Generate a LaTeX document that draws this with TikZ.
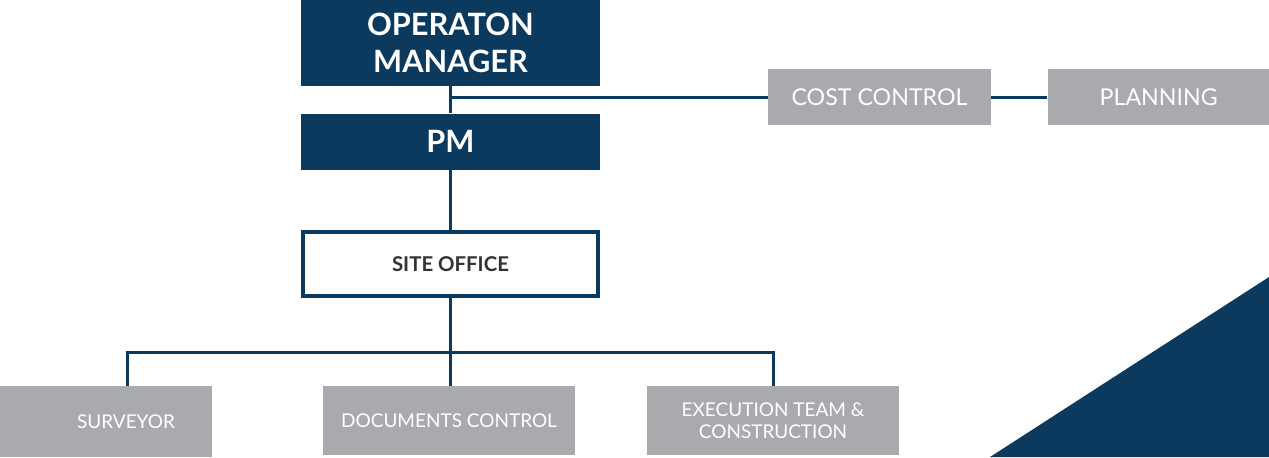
\documentclass[tikz,border=0pt]{standalone}
\usepackage{fontspec}
\setmainfont{Lato}
\usetikzlibrary{positioning}
\definecolor{navy}{HTML}{0C3A5E}
\definecolor{boxgray}{HTML}{A8AAAD}
\tikzstyle{head} = [rectangle, minimum width=5.98cm, text centered, align=center, fill=navy, text=white, font=\bfseries\fontsize{17.5}{21}\selectfont, inner sep=0pt]
\tikzstyle{office} = [rectangle, minimum width=5.9cm, minimum height=1.28cm, text centered, draw=navy, line width=0.08cm, fill=white, text=black!80, font=\bfseries\fontsize{11.6}{13}\selectfont]
\tikzstyle{staff} = [rectangle, text centered, align=center, fill=boxgray, text=white, font=\fontsize{10.8}{12.2}\selectfont, inner sep=0pt]
\tikzstyle{link} = [draw=navy, line width=0.06cm]

\begin{document}
\begin{tikzpicture}
      \useasboundingbox (0,0) rectangle (25.38,-9.14);
      \fill[navy] (19.8,-9.14) -- (25.38,-5.54) -- (25.38,-9.14) -- cycle;

      \node (manager) [head, minimum height=1.72cm] at (9.01,-0.86) {OPERATON\\MANAGER};
      \node (pm) [head, minimum height=1.12cm, below=0.54cm of manager] {PM};
      \node (site) [office, below=1.2cm of pm] {SITE OFFICE};
      \node (cost) [staff, minimum width=4.46cm, minimum height=1.12cm, font=\fontsize{13.2}{15}\selectfont] at (17.59,-1.94) {COST CONTROL};
      \node (plan) [staff, minimum width=4.44cm, minimum height=1.12cm, font=\fontsize{13.2}{15}\selectfont, right=1.12cm of cost] {PLANNING};
      \node (surv) [staff, minimum width=4.24cm, minimum height=1.42cm] at (2.12,-8.43) {\hspace{0.8cm}SURVEYOR};
      \node (docs) [staff, minimum width=5.04cm, minimum height=1.38cm] at (8.98,-8.41) {DOCUMENTS CONTROL};
      \node (exec) [staff, minimum width=5.04cm, minimum height=1.38cm] at (15.46,-8.41) {EXECUTION TEAM \&\\CONSTRUCTION};

      \coordinate (busL) at (2.54,-7.04);
      \coordinate (busR) at (15.46,-7.04);

      \draw[link] (manager) -- (pm);
      \draw[link] (pm) -- (site);
      \draw[link] (manager.south |- cost) -- (cost);
      \draw[link] (cost) -- (plan);
      \draw[link] (site.south) -- (site.south |- docs.north);
      \draw[link] (surv.north -| busL) -- (busL) -- (busR) -- (exec.north);
    \end{tikzpicture}
\end{document}
